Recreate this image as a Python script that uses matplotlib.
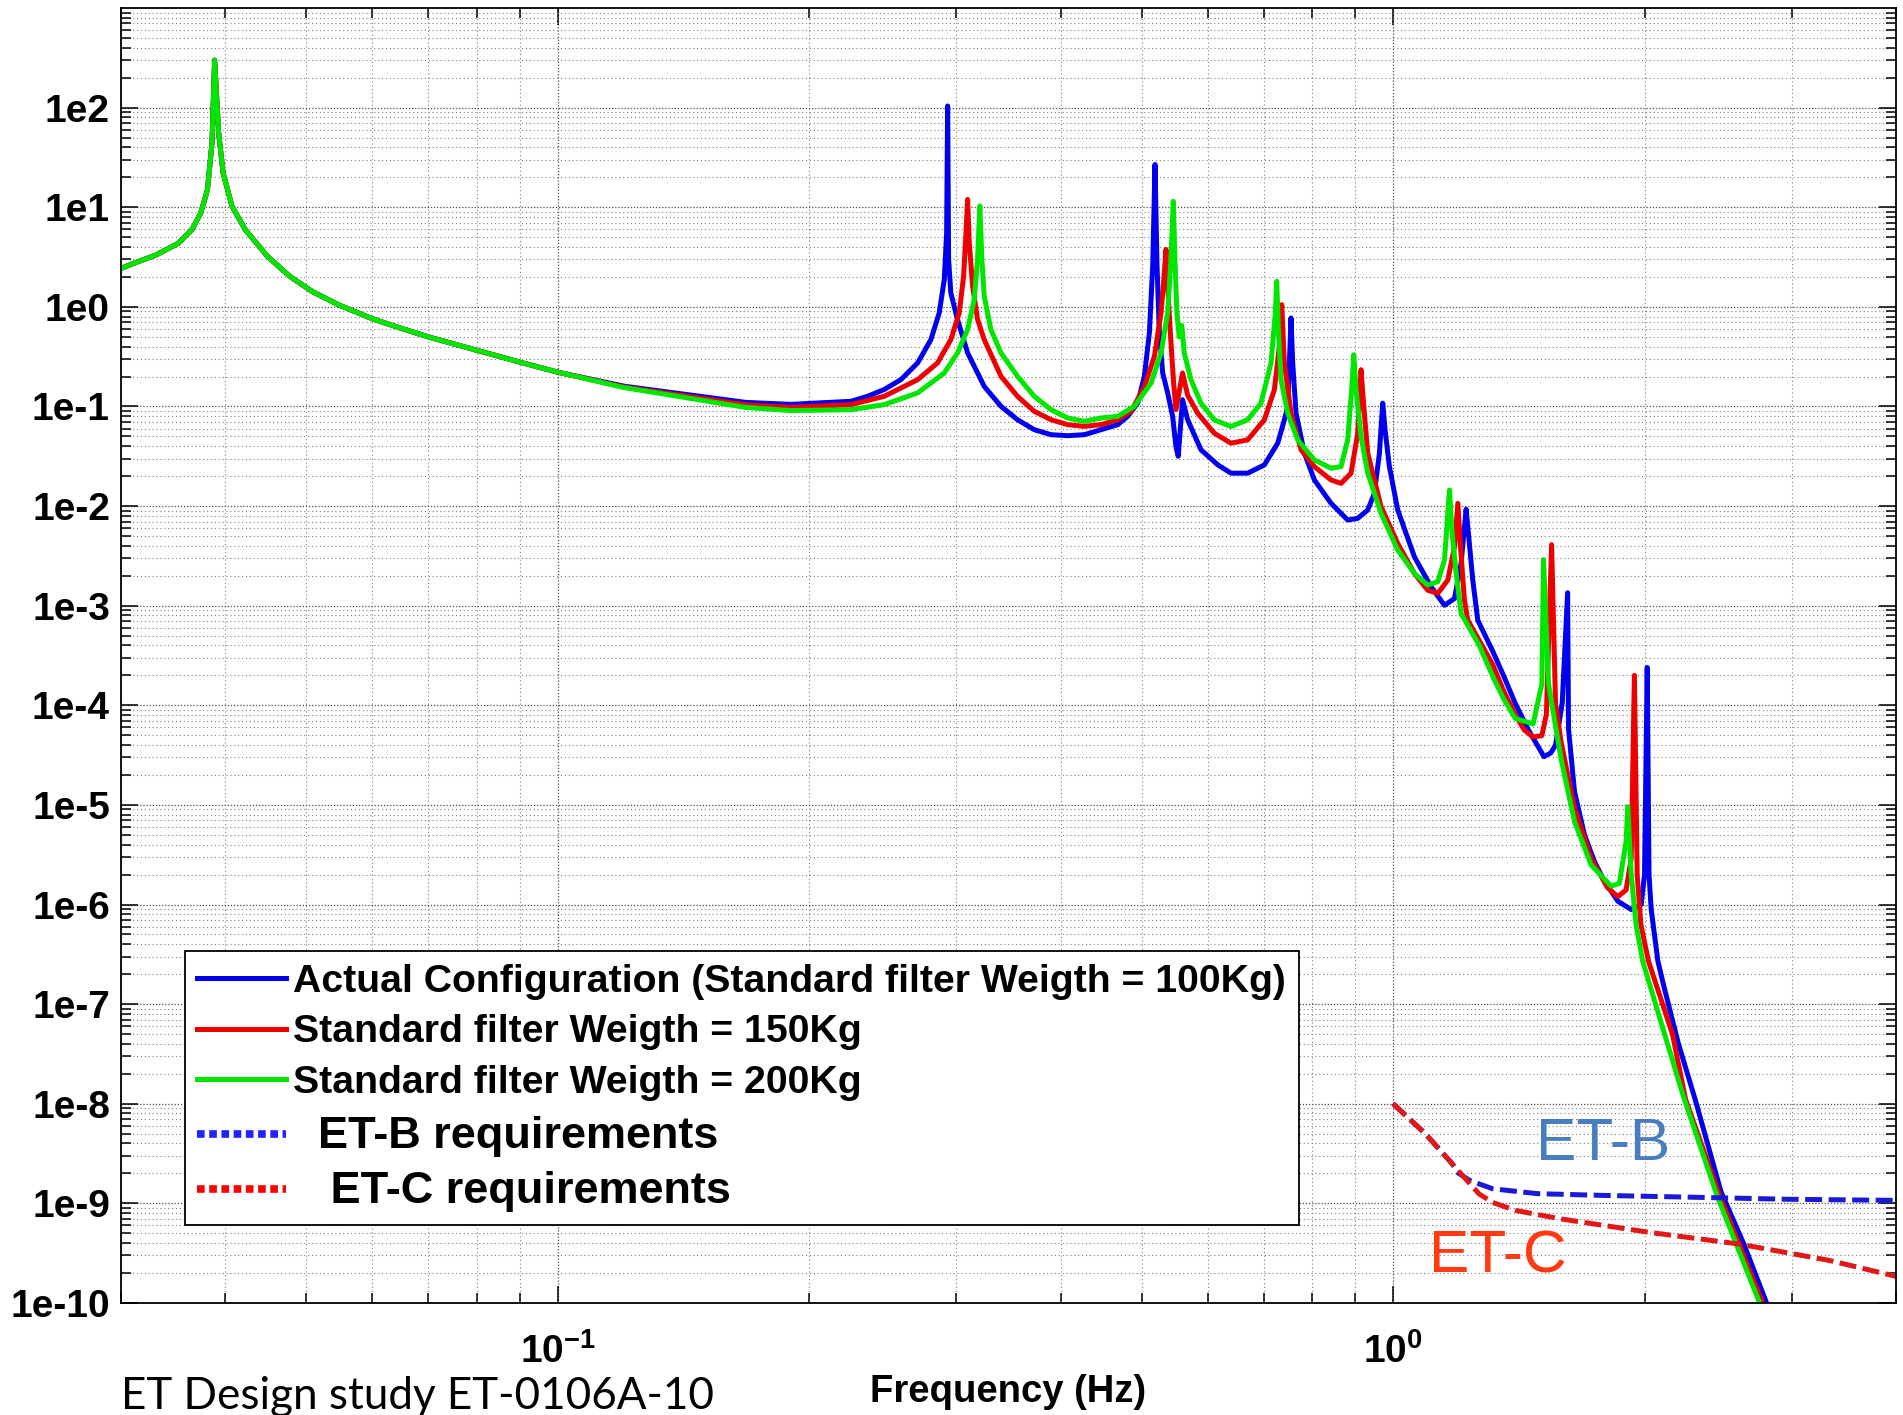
import numpy as np
import matplotlib
matplotlib.use("Agg")
import matplotlib.pyplot as plt
from matplotlib.lines import Line2D
from matplotlib.ticker import LogLocator, NullFormatter

plt.rcParams['font.family'] = ['Liberation Sans', 'DejaVu Sans']
plt.rcParams['mathtext.fontset'] = 'custom'
plt.rcParams['mathtext.rm'] = 'Liberation Sans'
plt.rcParams['mathtext.bf'] = 'Liberation Sans:bold'

# low frequency part, the three curves coincide there
f_low = [0.030, 0.03106, 0.03304, 0.03513, 0.03646, 0.03737, 0.03807, 0.03855, 0.03883,
         0.03926, 0.03975, 0.04074, 0.04227, 0.04496, 0.04783, 0.05087, 0.05477,
         0.05992, 0.06511, 0.07009, 0.08008, 0.09005, 0.10]
a_low = [2.436, 2.735, 3.32, 4.35, 5.93, 8.74, 15.0, 44.4, 300,
         56, 22.1, 10.2, 5.93, 3.19, 2.01, 1.42, 1.04,
         0.762, 0.605, 0.498, 0.366, 0.279, 0.221]

# actual configuration (100 kg)
f_blue = [0.12, 0.1678, 0.19, 0.2243, 0.2349, 0.2459, 0.2575, 0.2697, 0.2797, 0.2862,
          0.2902, 0.2921, 0.2929, 0.2937, 0.2955, 0.3010, 0.3095, 0.3240, 0.3393, 0.3551,
          0.3719, 0.3895, 0.4078, 0.4270, 0.4471, 0.4681, 0.4812, 0.4947, 0.5038, 0.5108,
          0.5155, 0.5188, 0.5217, 0.5251, 0.5299, 0.5372, 0.5446, 0.5496, 0.5531, 0.5597,
          0.5676, 0.5888, 0.6166, 0.6397, 0.6697, 0.7013, 0.7276, 0.7411, 0.7479, 0.7514,
          0.7548, 0.7583, 0.7653, 0.7832, 0.805, 0.8428, 0.8824, 0.9072, 0.9326, 0.9498,
          0.963, 0.9719, 0.9782, 0.9899, 1.013, 1.0605, 1.1104, 1.1522, 1.1845, 1.2062,
          1.2231, 1.2309, 1.2457, 1.263, 1.316, 1.357, 1.40, 1.452, 1.516, 1.545,
          1.565, 1.594, 1.618, 1.622, 1.649, 1.695, 1.742, 1.791, 1.858, 1.928,
          1.982, 2.0, 2.015, 2.025, 2.037, 2.075, 2.11, 2.196, 2.30, 2.47,
          2.63, 2.80]
a_blue = [0.16, 0.11, 0.105, 0.1127, 0.1265, 0.148, 0.186, 0.274, 0.469, 0.87,
          1.88, 5.54, 104, 2.99, 1.38, 0.746, 0.345, 0.159, 0.1004, 0.0737,
          0.0585, 0.0521, 0.0509, 0.0521, 0.0585, 0.0657, 0.0796, 0.1084, 0.201, 0.548,
          2.56, 26.9, 2.56, 0.548, 0.217, 0.137, 0.0796, 0.0398, 0.0316, 0.117,
          0.0737, 0.0368, 0.026, 0.0214, 0.0214, 0.0259, 0.0428, 0.0735, 0.1, 0.273,
          0.773, 0.273, 0.0857, 0.0339, 0.0183, 0.01066, 0.00725, 0.00753, 0.00914, 0.01344,
          0.0339, 0.108, 0.0582, 0.0249, 0.00914, 0.0031, 0.00155, 0.00101, 0.00118, 0.00266,
          0.0093, 0.00532, 0.00181, 7.15e-4, 3.5e-4, 1.96e-4, 1.05e-4, 5.67e-5, 3.05e-5, 3.33e-5,
          3.98e-5, 1.05e-4, 1.35e-3, 5.8e-5, 1.36e-5, 5e-6, 2.7e-6, 1.71e-6, 1.08e-6, 8.9e-7,
          1e-6, 2e-6, 2.4e-4, 2e-6, 9e-7, 2.7e-7, 1.5e-7, 4e-8, 1.1e-8, 1.3e-9,
          3.9e-10, 1e-10]

# 150 kg
f_red = [0.12, 0.1678, 0.19, 0.2243, 0.2459, 0.2697, 0.2849, 0.2955, 0.3024, 0.3061,
         0.3081, 0.3095, 0.3109, 0.3138, 0.3181, 0.3240, 0.3393, 0.3551, 0.3719, 0.3895,
         0.4078, 0.4270, 0.4471, 0.4681, 0.4857, 0.5038, 0.5179, 0.5275, 0.5323, 0.5348,
         0.5372, 0.5412, 0.5461, 0.5496, 0.5597, 0.5676, 0.5835, 0.6109, 0.6397, 0.6697,
         0.7013, 0.7209, 0.7309, 0.7357, 0.7411, 0.7548, 0.776, 0.805, 0.8428, 0.8664,
         0.8906, 0.9072, 0.9155, 0.9224, 0.9326, 0.9674, 1.013, 1.0605, 1.1003, 1.1312,
         1.1629, 1.1845, 1.1955, 1.2043, 1.2174, 1.2287, 1.316, 1.357, 1.40, 1.435,
         1.471, 1.507, 1.526, 1.548, 1.565, 1.589, 1.649, 1.726, 1.807, 1.858,
         1.901, 1.928, 1.945, 1.96, 1.98, 2.022, 2.16, 2.24, 2.46, 2.77]
a_red = [0.157, 0.104, 0.098, 0.1043, 0.1265, 0.186, 0.274, 0.469, 0.87, 2.03,
         5.54, 12.0, 4.4, 1.61, 0.746, 0.469, 0.201, 0.1265, 0.0894, 0.0737,
         0.0657, 0.0632, 0.0657, 0.0737, 0.0894, 0.159, 0.319, 0.87, 2.2, 3.77,
         1.61, 0.548, 0.172, 0.0929, 0.217, 0.13, 0.0857, 0.0539, 0.0428, 0.0462,
         0.0735, 0.1471, 0.401, 1.053, 0.273, 0.0857, 0.0367, 0.0249, 0.0183, 0.0169,
         0.0214, 0.0539, 0.234, 0.1, 0.0339, 0.00987, 0.00422, 0.00211, 0.00143, 0.00133,
         0.00181, 0.00391, 0.01066, 0.00391, 0.00114, 7.15e-4, 2.57e-4, 1.38e-4, 8.1e-5, 5.67e-5,
         4.8e-5, 4.96e-5, 8.1e-5, 4.1e-3, 1.05e-4, 4.3e-5, 9.3e-6, 2.9e-6, 1.47e-6, 1.2e-6,
         1.4e-6, 2.9e-6, 2e-4, 2e-6, 6.3e-7, 2.7e-7, 5e-8, 1.1e-8, 1.2e-9, 1e-10]

# 200 kg
f_green = [0.12, 0.1678, 0.19, 0.2243, 0.2459, 0.2697, 0.2902, 0.3010, 0.3095, 0.3152,
           0.3181, 0.3201, 0.3219, 0.3240, 0.3300, 0.3393, 0.3551, 0.3719, 0.3895, 0.4078,
           0.4270, 0.4471, 0.4681, 0.4901, 0.5132, 0.5275, 0.5372, 0.5421, 0.5456, 0.5481,
           0.5511, 0.5546, 0.5585, 0.5624, 0.5729, 0.5888, 0.6109, 0.6397, 0.6697, 0.6948,
           0.7143, 0.7229, 0.7256, 0.7289, 0.7343, 0.7479, 0.7689, 0.805, 0.8428, 0.8664,
           0.8824, 0.8922, 0.8973, 0.903, 0.9155, 0.9326, 0.9674, 1.013, 1.0605, 1.1003,
           1.1312, 1.1522, 1.1629, 1.1683, 1.1759, 1.19, 1.2062, 1.268, 1.316, 1.357,
           1.40, 1.471, 1.507, 1.514, 1.535, 1.589, 1.649, 1.726, 1.824, 1.866,
           1.901, 1.91, 1.928, 1.954, 1.99, 2.10, 2.225, 2.442, 2.747]
a_green = [0.155, 0.098, 0.091, 0.0929, 0.1043, 0.137, 0.217, 0.345, 0.592, 1.185,
           2.99, 10.3, 2.99, 1.28, 0.592, 0.345, 0.201, 0.1265, 0.0929, 0.0766,
           0.0709, 0.0766, 0.0796, 0.1004, 0.172, 0.345, 0.87, 2.99, 11.5, 2.99,
           0.87, 0.5, 0.65, 0.344, 0.1854, 0.108, 0.0735, 0.0629, 0.0735, 0.108,
           0.273, 0.869, 1.807, 0.59, 0.1854, 0.0857, 0.0462, 0.0291, 0.024, 0.0249,
           0.0462, 0.1471, 0.331, 0.1471, 0.0499, 0.0214, 0.00846, 0.00362, 0.00211, 0.00161,
           0.00174, 0.00287, 0.00846, 0.0145, 0.00575, 0.00211, 8.34e-4, 4e-4, 1.96e-4, 1.15e-4,
           7.4e-5, 6.5e-5, 1.64e-4, 2.9e-3, 1.64e-4, 2.9e-5, 6.8e-6, 2.5e-6, 1.53e-6, 1.63e-6,
           4.3e-6, 9.6e-6, 2e-6, 6.3e-7, 2.7e-7, 6e-8, 1.2e-8, 1.2e-9, 1e-10]

# requirement curves
f_etc = [1.0, 1.093, 1.177, 1.222, 1.268, 1.316, 1.40, 1.584, 2.03, 2.597, 3.33, 4.0]
a_etc = [1e-8, 5e-9, 2.5e-9, 1.75e-9, 1.24e-9, 1.02e-9, 8.5e-10, 7e-10, 5.1e-10, 3.9e-10,
         2.67e-10, 1.85e-10]
f_etb = [1.0, 1.093, 1.177, 1.192, 1.236, 1.316, 1.489, 1.792, 2.30, 2.94, 4.0]
a_etb = [1e-8, 5e-9, 2.5e-9, 2.06e-9, 1.69e-9, 1.4e-9, 1.25e-9, 1.2e-9, 1.15e-9, 1.1e-9, 1.07e-9]

ytick_vals = [1e-10, 1e-9, 1e-8, 1e-7, 1e-6, 1e-5, 1e-4, 1e-3, 1e-2, 1e-1, 1e0, 1e1, 1e2]
ytick_labels = ['1e-10', '1e-9', '1e-8', '1e-7', '1e-6', '1e-5', '1e-4',
                '1e-3', '1e-2', '1e-1', '1e0', '1e1', '1e2']
xtick_vals = [0.1, 1.0]
xtick_labels = [r'$\mathbf{10^{-1}}$', r'$\mathbf{10^{0}}$']

legend_labels = ['Actual Configuration (Standard filter Weigth = 100Kg)',
                 'Standard filter Weigth = 150Kg',
                 'Standard filter Weigth = 200Kg',
                 '  ET-B requirements',
                 '   ET-C requirements']

BLUE = '#0000ee'
RED = '#ee0000'
GREEN = '#00e600'

fig = plt.figure(figsize=(19.03, 14.15), dpi=100)
ax = fig.add_axes([0.0636, 0.0792, 0.9327, 0.9151])

lw = 3.6
ax.plot(f_low + f_blue, a_low + a_blue, color=BLUE, lw=lw)
ax.plot(f_low + f_red, a_low + a_red, color=RED, lw=lw)
ax.plot(f_low + f_green, a_low + a_green, color=GREEN, lw=lw)
ax.plot(f_etb, a_etb, color='#1a1ad6', lw=3.6, ls=(0, (3.4, 1.3)))
ax.plot(f_etc, a_etc, color='#e01818', lw=3.6, ls=(0, (3.4, 1.3)))

ax.set_xscale('log')
ax.set_yscale('log')
ax.set_xlim(0.03, 4.0)
ax.set_ylim(1e-10, 1e3)

ax.set_yticks(ytick_vals, labels=ytick_labels)
ax.set_xticks(xtick_vals, labels=xtick_labels)
ax.yaxis.set_minor_locator(LogLocator(base=10, subs=np.arange(2, 10), numticks=100))
ax.xaxis.set_minor_locator(LogLocator(base=10, subs=np.arange(2, 10), numticks=100))
ax.yaxis.set_minor_formatter(NullFormatter())
ax.xaxis.set_minor_formatter(NullFormatter())

ax.grid(True, which='major', ls=(0, (1, 1.5)), color='0.3', lw=0.9)
ax.grid(True, which='minor', ls=(0, (1, 2.5)), color='0.5', lw=0.8)

ax.tick_params(which='both', direction='in', top=True, right=True, width=1.1)
ax.tick_params(which='major', length=12, labelsize=28)
ax.tick_params(which='minor', length=7)
ax.tick_params(axis='y', pad=8)
ax.tick_params(axis='x', pad=22)
for lbl in ax.get_yticklabels():
    lbl.set_fontweight('bold')
for s in ax.spines.values():
    s.set_linewidth(1.3)

ax.set_xlabel('Frequency (Hz)', fontsize=27.5, fontweight='bold', labelpad=2)

ax.text(1.484, 3.9e-9, 'ET-B', color='#4a7cc0', fontsize=43.5, va='center', ha='left')
ax.text(1.105, 2.9e-10, 'ET-C', color='#ff3a12', fontsize=43.5, va='center', ha='left')

handles = [Line2D([], [], color=BLUE, lw=3.6),
           Line2D([], [], color=RED, lw=3.6),
           Line2D([], [], color=GREEN, lw=3.6),
           Line2D([], [], color='#2222ff', lw=5.5, ls=(0, (1, 0.6)), dash_capstyle='butt'),
           Line2D([], [], color='#ff0000', lw=5.5, ls=(0, (1, 0.6)), dash_capstyle='butt')]
leg = ax.legend(handles, legend_labels, loc='upper left', bbox_to_anchor=(0.0358, 0.2715),
                borderaxespad=0, prop={'weight': 'bold', 'size': 28.3}, handlelength=2.25,
                handletextpad=0.2, labelspacing=0.37, borderpad=0.32, fancybox=False,
                framealpha=1, edgecolor='black')
leg.get_frame().set_linewidth(1.3)
for t in leg.get_texts()[3:]:
    t.set_fontsize(32.5)

fig.text(121 / 1903, 0.004, 'ET Design study ET-0106A-10', fontsize=31.7,
         family=['Lato', 'DejaVu Sans'], va='baseline', ha='left')

fig.savefig('out.png', dpi=100, facecolor='white')
